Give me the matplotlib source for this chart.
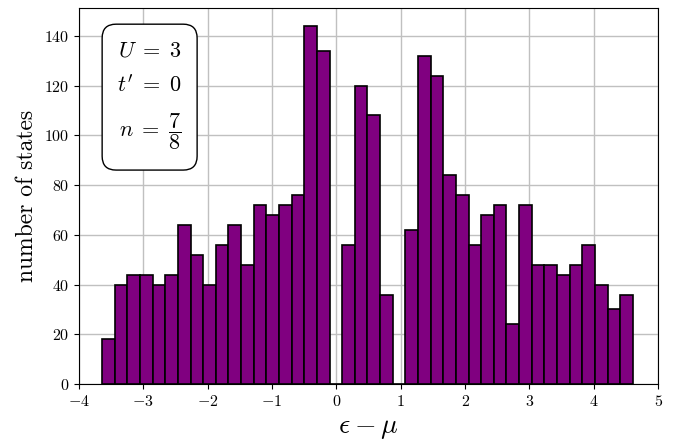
import numpy as np
import matplotlib
matplotlib.use('Agg')
import matplotlib.pyplot as plt
from matplotlib.patches import FancyBboxPatch

# energy window of the histogram and number of states per bin
e_min = -3.64
e_max = 4.607
counts = [18, 40, 44, 44, 40, 44, 64, 52, 40, 56, 64, 48, 72, 68, 72, 76, 144, 134,
          0, 56, 120, 108, 36, 0,
          62, 132, 124, 84, 76, 56, 68, 72, 24, 72, 48, 48, 44, 48, 56, 40, 30, 36]

plt.rcParams['font.family'] = 'serif'
plt.rcParams['font.serif'] = ['cmr10']
plt.rcParams['mathtext.fontset'] = 'cm'
plt.rcParams['axes.formatter.use_mathtext'] = True

fig = plt.figure(figsize=(6.75, 4.45), dpi=100)
ax = fig.add_axes([0.117, 0.137, 0.858, 0.845])

# Histogram of the states
edges = np.linspace(e_min, e_max, len(counts) + 1)
ax.hist(edges[:-1], bins=edges, weights=counts, color='purple',
        edgecolor='black', linewidth=1.2, zorder=3)

ax.set_xlim(-4, 5)
ax.set_ylim(0, 151.2)
ax.set_yticks(range(0, 141, 20))
ax.grid(True, color='#c0c0c0', linewidth=1.0, zorder=0)
ax.set_axisbelow(True)
ax.tick_params(labelsize=11.5)

ax.set_xlabel(r'$\epsilon - \mu$', fontsize=20)
ax.set_ylabel('number of states', fontsize=17)

# parameter box
box = FancyBboxPatch((0.040, 0.569), 0.164, 0.388,
                     boxstyle='round,pad=0,rounding_size=0.024',
                     mutation_aspect=579 / 376, transform=ax.transAxes,
                     facecolor='white', edgecolor='black', linewidth=1.0,
                     zorder=5)
ax.add_patch(box)
ax.text(0.176, 0.870, r'$U\;=\;3$', transform=ax.transAxes, fontsize=16,
        ha='right', va='baseline', zorder=6)
ax.text(0.176, 0.777, r"$t'\;=\;0$", transform=ax.transAxes, fontsize=16,
        ha='right', va='baseline', zorder=6)
ax.text(0.177, 0.672, r'$n\;=\;\dfrac{7}{8}$', transform=ax.transAxes,
        fontsize=16, ha='right', va='center', zorder=6)

fig.savefig('out.png', dpi=100)
